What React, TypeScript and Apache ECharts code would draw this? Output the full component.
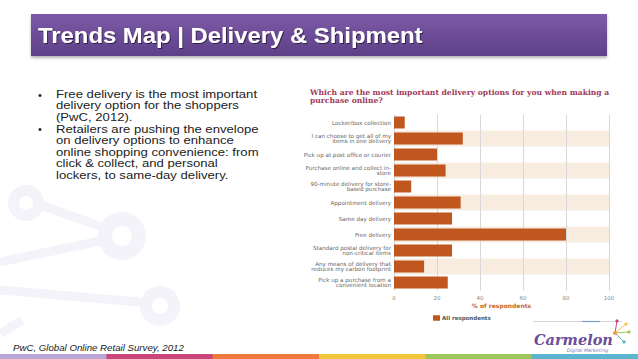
import React, { useEffect, useRef } from "react";
import * as echarts from "echarts";

const categories = [
  "Locker/box collection",
  "I can choose to get all of my\nitems in one delivery",
  "Pick up at post office or courier",
  "Purchase online and collect in-\nstore",
  "90-minute delivery for store-\nbased purchase",
  "Appointment delivery",
  "Same day delivery",
  "Free delivery",
  "Standard postal delivery for\nnon-critical items",
  "Any means of delivery that\nreduces my carbon footprint",
  "Pick up a purchase from a\nconvenient location",
];
const values = [5, 32, 20, 24, 8, 31, 27, 80, 27, 14, 25];
const seriesName = "All respondents";
const axisName = "% of respondents";
const chartTitle =
  "Which are the most important delivery options for you when making a\npurchase online?";
const slideTitle = "Trends Map | Delivery & Shipment";
const bullet1 = "Free delivery is the most important\ndelivery option for the shoppers\n(PwC, 2012).";
const bullet2 =
  "Retailers are pushing the envelope\non delivery options to enhance\nonline shopping convenience: from\nclick & collect, and personal\nlockers, to same-day delivery.";
const sourceText = "PwC, Global Online Retail Survey, 2012";
const stripColors = ["#b9a5d6", "#c9477b", "#ee7a3d", "#f2c53c", "#9dc75b", "#5bb5cf"];

export default function App() {
  const ref = useRef<HTMLDivElement>(null);
  useEffect(() => {
    if (!ref.current) return;
    const chart = echarts.init(ref.current, null, { renderer: "svg" });
    const faint = "#f4f3fa";
    const stripW = 638 / stripColors.length;
    const graphic: any[] = [
      // watermark shapes
      { type: "line", z: 0, shape: { x1: 0, y1: 262, x2: 105, y2: 240 }, style: { stroke: faint, lineWidth: 9 } },
      { type: "line", z: 0, shape: { x1: 35, y1: 203, x2: 105, y2: 228 }, style: { stroke: faint, lineWidth: 9 } },
      { type: "ring", z: 0, shape: { cx: 122, cy: 236, r: 24, r0: 10 }, style: { fill: faint } },
      { type: "ring", z: 0, shape: { cx: 26, cy: 203, r: 18, r0: 7 }, style: { fill: faint } },
      { type: "line", z: 0, shape: { x1: 0, y1: 290, x2: 150, y2: 303 }, style: { stroke: faint, lineWidth: 9 } },
      { type: "ring", z: 0, shape: { cx: 160, cy: 306, r: 20, r0: 8 }, style: { fill: faint } },
      { type: "line", z: 0, shape: { x1: 0, y1: 334, x2: 22, y2: 320 }, style: { stroke: faint, lineWidth: 9 } },
      // title bar
      {
        type: "rect",
        shape: { x: 31, y: 14, width: 576, height: 42 },
        style: {
          fill: new echarts.graphic.LinearGradient(0, 0, 0, 1, [
            { offset: 0, color: "#7d5aa8" },
            { offset: 1, color: "#5d4087" },
          ]),
          shadowBlur: 3,
          shadowOffsetY: 2,
          shadowColor: "rgba(0,0,0,0.3)",
        },
      },
      {
        type: "text",
        x: 38,
        y: 35,
        scaleX: 1.11,
        style: {
          text: slideTitle,
          fill: "#ffffff",
          font: "bold 21.5px 'Liberation Sans', Arial, sans-serif",
          verticalAlign: "middle",
          textShadowColor: "rgba(0,0,0,0.55)",
          textShadowOffsetX: 1,
          textShadowOffsetY: 1,
          textShadowBlur: 1,
        },
      },
      // bullets
      { type: "text", x: 38, y: 94.5, style: { text: "•", fill: "#222", font: "11px 'Liberation Sans', Arial", verticalAlign: "middle" } },
      { type: "text", x: 38, y: 129, style: { text: "•", fill: "#222", font: "11px 'Liberation Sans', Arial", verticalAlign: "middle" } },
      {
        type: "text",
        x: 56,
        y: 88.5,
        scaleX: 1.14,
        style: { text: bullet1, fill: "#222", font: "11.5px 'Liberation Sans', Arial", lineHeight: 11.5, verticalAlign: "top" },
      },
      {
        type: "text",
        x: 56,
        y: 123.2,
        scaleX: 1.14,
        style: { text: bullet2, fill: "#222", font: "11.5px 'Liberation Sans', Arial", lineHeight: 11.5, verticalAlign: "top" },
      },
      // source
      {
        type: "text",
        x: 13,
        y: 348,
        scaleX: 1.02,
        style: { text: sourceText, fill: "#222", font: "italic 9.5px 'Liberation Sans', Arial", verticalAlign: "middle" },
      },
      // logo
      { type: "line", shape: { x1: 533, y1: 321.5, x2: 622, y2: 321.5 }, style: { stroke: "#d3d7e0", lineWidth: 1 } },
      { type: "line", shape: { x1: 582, y1: 321.5, x2: 600, y2: 321.5 }, style: { stroke: "#7f9cc6", lineWidth: 1.2 } },
      {
        type: "text",
        x: 534,
        y: 339.5,
        style: { text: "Carmelon", fill: "#6a4d9b", font: "italic bold 14.5px 'DejaVu Serif', serif", verticalAlign: "middle" },
      },
      {
        type: "text",
        x: 608,
        y: 350.5,
        style: { text: "Digital Marketing", fill: "#8b7bb3", font: "italic 4.8px 'DejaVu Sans', sans-serif", verticalAlign: "middle", align: "right" },
      },
      { type: "line", shape: { x1: 615, y1: 333, x2: 626, y2: 324 }, style: { stroke: "#f4c84a", lineWidth: 1 } },
      { type: "line", shape: { x1: 615, y1: 333, x2: 629, y2: 332 }, style: { stroke: "#9dc75b", lineWidth: 1 } },
      { type: "line", shape: { x1: 615, y1: 333, x2: 624, y2: 342 }, style: { stroke: "#5bb5cf", lineWidth: 1 } },
      { type: "line", shape: { x1: 615, y1: 333, x2: 617, y2: 321 }, style: { stroke: "#c9477b", lineWidth: 1 } },
      { type: "circle", shape: { cx: 626, cy: 324, r: 1.6 }, style: { fill: "#f4c84a" } },
      { type: "circle", shape: { cx: 629, cy: 332, r: 1.6 }, style: { fill: "#9dc75b" } },
      { type: "circle", shape: { cx: 624, cy: 342, r: 1.6 }, style: { fill: "#5bb5cf" } },
      { type: "circle", shape: { cx: 617, cy: 321, r: 1.6 }, style: { fill: "#c9477b" } },
      { type: "circle", shape: { cx: 615, cy: 333, r: 2 }, style: { fill: "#f2a03c" } },
      // bottom strip
      ...stripColors.map((c, i) => ({
        type: "rect",
        shape: { x: i * stripW, y: 354, width: stripW + 0.5, height: 5 },
        style: { fill: c },
      })),
    ];

    chart.setOption({
      animation: false,
      title: {
        text: chartTitle,
        left: 310,
        top: 88,
        padding: 0,
        textStyle: {
          fontFamily: "'DejaVu Serif', serif",
          fontWeight: "bold",
          fontSize: 7.6,
          lineHeight: 8,
          color: "#a03a5c",
        },
      },
      legend: {
        data: [seriesName],
        left: 433,
        top: 315,
        itemWidth: 7,
        itemHeight: 5.5,
        icon: "rect",
        padding: 0,
        textStyle: {
          fontSize: 5.5,
          fontWeight: "bold",
          color: "#555",
          fontFamily: "'DejaVu Sans', sans-serif",
          padding: [0, 0, 0, -3],
        },
      },
      grid: { left: 394, right: 29, top: 114.5, bottom: 68.5 },
      xAxis: {
        type: "value",
        min: 0,
        max: 100,
        interval: 20,
        axisLine: { show: false },
        axisTick: { show: false },
        axisLabel: { color: "#888", fontSize: 5.5, margin: 4, fontFamily: "'DejaVu Sans', sans-serif" },
        splitLine: { show: true, lineStyle: { color: "#d8d8d8", width: 1 } },
        name: axisName,
        nameLocation: "middle",
        nameGap: 12,
        nameTextStyle: { color: "#c8672e", fontWeight: "bold", fontSize: 6, fontFamily: "'DejaVu Sans', sans-serif" },
      },
      yAxis: {
        type: "category",
        data: categories,
        inverse: true,
        axisLine: { show: false },
        axisTick: { show: false },
        axisLabel: { color: "#666", fontSize: 5.6, lineHeight: 5.9, margin: 3, fontFamily: "'DejaVu Sans', sans-serif" },
        splitLine: { show: false },
        splitArea: { show: true, areaStyle: { color: ["rgba(255,255,255,0)", "#f8ebe0"] } },
      },
      series: [
        {
          name: seriesName,
          type: "bar",
          data: values,
          barWidth: 12,
          itemStyle: { color: "#c0571f" },
        },
      ],
      graphic,
    });
    return () => chart.dispose();
  }, []);
  return <div ref={ref} style={{ position: "fixed", left: 0, top: 0, width: 638, height: 359, background: "#fff" }} />;
}
